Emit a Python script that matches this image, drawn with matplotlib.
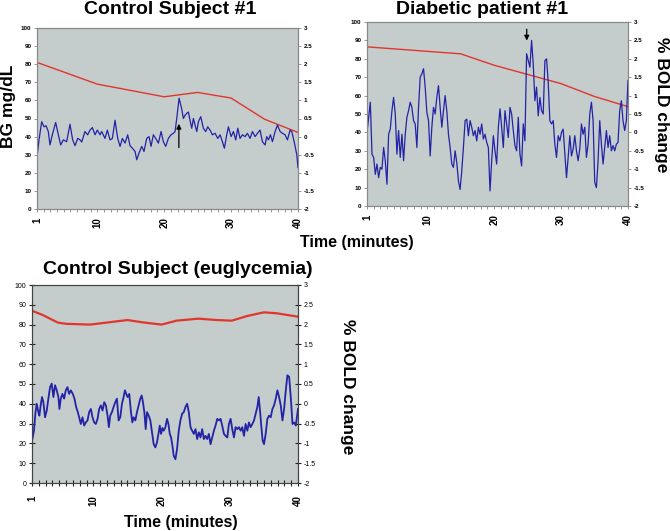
import numpy as np
import matplotlib.pyplot as plt

plt.rcParams['font.family'] = ['Liberation Sans', 'DejaVu Sans']

W, H = 670, 531

# blood glucose (mg/dL, left axis)
bg1_t = [1, 10, 20, 25, 30, 35, 40]
bg1_v = [81, 69, 62, 64.4, 61.3, 49.6, 42.3]
bg2_t = [1, 15, 20, 25, 30, 35, 40]
bg2_v = [86.5, 82.7, 76.5, 71.5, 66.5, 59.5, 54]
bg3_t = [1, 2.6, 4.8, 6, 9.5, 15, 17.3, 20, 22.2, 25.4, 28.1, 30.3, 32.5, 35, 36.9, 40]
bg3_v = [87, 84.8, 81, 80.4, 80, 82.3, 81.1, 80, 82, 83, 82.3, 82, 84.3, 86.2, 85.7, 84]

# % BOLD change (right axis)
bold1_t = [1.0, 1.30, 1.70, 2.05, 2.35, 2.69, 2.94, 3.29, 3.79, 4.19,
           4.54, 4.94, 5.43, 5.93, 6.33, 6.68, 7.08, 7.43, 7.68, 8.17,
           8.57, 8.92, 9.27, 9.67, 10.02, 10.42, 10.67, 11.16, 11.51, 11.91,
           12.26, 12.66, 13.06, 13.41, 13.76, 14.15, 14.55, 14.90, 15.25, 15.65,
           15.90, 16.25, 16.65, 16.99, 17.39, 17.74, 18.04, 18.39, 18.74, 19.14,
           19.54, 19.88, 20.23, 20.63, 21.03, 21.38, 21.63, 21.88, 22.23, 22.62,
           22.87, 23.12, 23.37, 23.62, 23.87, 24.12, 24.37, 24.62, 24.87, 25.12,
           25.47, 25.86, 26.21, 26.51, 26.86, 27.21, 27.61, 28.01, 28.36, 28.70,
           29.00, 29.35, 29.60, 30.00, 30.35, 30.70, 31.00, 31.34, 31.69, 32.09,
           32.44, 32.84, 33.19, 33.59, 33.94, 34.33, 34.68, 35.08, 35.33, 35.58,
           35.88, 36.18, 36.58, 36.93, 37.33, 37.68, 38.07, 38.42, 38.82, 39.07,
           39.47, 39.82, 40.0]
bold1_v = [-0.55, -0.09, 0.41, 0.27, 0.30, 0.14, -0.23, 0.05, 0.39, 0.05,
           -0.23, -0.09, -0.14, 0.34, -0.09, -0.25, -0.05, -0.09, -0.15, 0.14,
           0.05, 0.18, 0.25, 0.05, 0.18, 0.05, 0.14, -0.05, 0.18, -0.09,
           -0.05, 0.45, -0.05, -0.27, -0.05, -0.18, 0.05, -0.25, -0.32, -0.41,
           -0.64, -0.45, -0.27, -0.41, -0.05, 0.00, -0.27, 0.05, -0.05, -0.18,
           0.14, -0.14, -0.27, -0.05, 0.05, 0.09, 0.14, 0.50, 1.06, 0.77,
           0.50, 0.59, 0.64, 0.68, 0.45, 0.23, 0.50, 0.32, 0.14, 0.41,
           0.55, 0.23, 0.14, 0.27, 0.18, 0.05, 0.09, -0.05, 0.05, -0.14,
           -0.32, 0.05, 0.27, 0.00, 0.14, -0.09, 0.23, -0.05, 0.05, 0.00,
           0.09, -0.05, 0.14, 0.00, 0.09, 0.18, -0.14, -0.23, 0.00, -0.09,
           0.05, -0.14, 0.14, 0.32, 0.14, 0.09, 0.05, -0.09, 0.18, 0.14,
           -0.18, -0.50, -0.86]

bold2_v = [0.00, 0.41, 0.82, -0.59, -0.68, -1.14, -0.86, -1.23, -0.95, -1.00,
           -0.41, -0.77, -1.41, -0.05, 0.09, 0.59, 0.95, 0.50, -0.59, 0.05,
           -0.68, -0.05, -0.77, -0.05, 0.41, 0.59, 0.82, 0.68, 0.32, 0.23,
           -0.41, 0.68, 1.50, 1.59, 1.73, 1.23, 0.55, 0.32, -0.64, 0.14,
           0.68, 0.50, 0.95, 1.27, 0.68, 0.14, 0.59, 1.00, 0.59, -0.05,
           -0.41, -0.86, -0.95, -0.50, -0.82, -1.32, -1.55, -1.05, -0.41, 0.32,
           0.36, -0.09, 0.32, 0.14, -0.09, 0.05, -0.23, 0.14, -0.05, 0.23,
           -0.18, -0.05, -0.27, -0.41, -1.59, -0.77, -0.09, -0.50, -0.86, 0.14,
           0.64, 0.14, -0.41, 0.59, 0.23, -0.14, 0.68, 0.50, 0.05, -0.36,
           -0.50, 0.41, -0.59, -0.91, 0.23, -0.23, 2.14, 1.95, 1.77, 2.50,
           1.86, 0.86, 1.23, 0.45, 0.95, 0.59, 0.50, 1.95, 2.00, 1.36,
           0.32, 0.23, 0.32, -0.32, -0.68, -0.09, -0.23, 0.00, 0.09, -0.59,
           -1.23, -0.68, -0.09, -0.64, -0.45, -0.09, -0.50, -0.77, -0.45, 0.23,
           -0.05, 0.14, -0.68, -0.32, 0.50, 0.82, 0.32, -1.36, -1.50, -0.77,
           0.32, -0.32, -0.86, -0.41, 0.05, -0.41, -0.09, -0.50, -0.36, -0.50,
           -0.32, -0.27, 0.59, 0.86, 0.32, 0.05, 0.32, 1.41]
bold2_t = np.linspace(1, 40, len(bold2_v))

bold3_t = [1.0, 1.29, 1.49, 1.69, 1.93, 2.08, 2.27, 2.47, 2.67, 2.91,
           3.16, 3.40, 3.65, 3.89, 4.14, 4.38, 4.63, 4.87, 5.02, 5.22,
           5.46, 5.71, 5.95, 6.20, 6.44, 6.69, 6.98, 7.23, 7.47, 7.72,
           7.96, 8.16, 8.40, 8.65, 8.89, 9.14, 9.38, 9.63, 9.87, 10.12,
           10.36, 10.61, 10.85, 11.10, 11.34, 11.59, 11.83, 12.08, 12.27, 12.47,
           12.72, 12.96, 13.21, 13.45, 13.70, 13.94, 14.19, 14.43, 14.63, 14.82,
           15.02, 15.26, 15.51, 15.71, 15.90, 16.15, 16.39, 16.64, 16.88, 17.08,
           17.27, 17.47, 17.67, 17.86, 18.11, 18.35, 18.60, 18.84, 19.09, 19.33,
           19.58, 19.73, 19.92, 20.12, 20.31, 20.56, 20.80, 21.00, 21.20, 21.39,
           21.59, 21.78, 22.03, 22.27, 22.52, 22.76, 23.01, 23.25, 23.50, 23.75,
           23.99, 24.24, 24.48, 24.73, 24.97, 25.22, 25.46, 25.71, 25.95, 26.20,
           26.44, 26.69, 26.93, 27.18, 27.42, 27.67, 27.91, 28.16, 28.40, 28.65,
           28.89, 29.14, 29.38, 29.63, 29.87, 30.12, 30.36, 30.61, 30.85, 31.10,
           31.34, 31.59, 31.83, 32.08, 32.32, 32.57, 32.81, 33.06, 33.30, 33.55,
           33.79, 34.04, 34.24, 34.43, 34.63, 34.82, 35.02, 35.26, 35.51, 35.75,
           36.00, 36.25, 36.49, 36.74, 36.98, 37.23, 37.47, 37.72, 37.96, 38.21,
           38.45, 38.70, 38.94, 39.19, 39.43, 39.68, 39.92, 40.00]
bold3_v = [-0.93, -0.68, -0.25, 0.00, -0.21, -0.30, -0.04, 0.17, 0.04, -0.34,
           -0.17, 0.13, 0.42, 0.51, 0.17, 0.47, 0.34, 0.17, -0.13, 0.13,
           0.25, 0.13, 0.34, 0.42, 0.25, 0.34, 0.25, 0.13, -0.08, -0.21,
           -0.38, -0.51, -0.34, -0.55, -0.47, -0.42, -0.21, -0.13, -0.34, -0.47,
           -0.51, -0.38, -0.13, -0.04, -0.17, 0.04, -0.04, -0.30, -0.59, -0.30,
           -0.21, -0.08, 0.04, 0.13, -0.42, -0.34, 0.00, 0.17, 0.34, 0.25,
           0.17, 0.25, -0.21, -0.47, -0.34, -0.42, -0.21, -0.04, 0.13, 0.21,
           0.04, -0.21, -0.64, -0.21, -0.30, -0.42, -0.72, -1.02, -1.10, -0.97,
           -0.72, -0.55, -0.76, -0.61, -0.68, -0.59, -0.38, -0.51, -0.76, -0.85,
           -1.06, -1.31, -1.40, -1.14, -0.68, -0.42, -0.25, -0.21, -0.08, 0.00,
           -0.21, -0.59, -0.68, -0.76, -0.64, -0.89, -0.72, -0.85, -0.64, -0.89,
           -0.81, -0.89, -0.76, -1.02, -0.85, -0.68, -0.55, -0.38, -0.42, -0.38,
           -0.55, -0.76, -0.81, -0.85, -0.51, -0.38, -0.64, -0.85, -0.59, -0.64,
           -0.59, -0.68, -0.59, -0.81, -0.51, -0.68, -0.47, -0.59, -0.51, -0.42,
           -0.25, -0.08, 0.17, -0.17, -0.59, -0.93, -1.02, -0.76, -0.38, -0.30,
           -0.34, -0.13, -0.04, 0.13, 0.34, 0.17, -0.04, -0.42, -0.13, 0.34,
           0.72, 0.68, 0.17, -0.51, -0.47, -0.55, -0.25, -0.13]

x_ticks = [1, 10, 20, 30, 40]
left_ticks = [0, 10, 20, 30, 40, 50, 60, 70, 80, 90, 100]
right_ticks = [-2, -1.5, -1, -0.5, 0, 0.5, 1, 1.5, 2, 2.5, 3]
right_labels = ['-2', '-1.5', '-1', '-0.5', '0', '0.5', '1', '1.5', '2', '2.5', '3']

bg_color = '#c4cccc'
red = '#e2352c'
blue = '#2323a6'


def px_rect(x0, y0, x1, y1):
    return [x0 / W, 1 - y1 / H, (x1 - x0) / W, (y1 - y0) / H]


def fig_text(x, y, s, **kw):
    fig.text(x / W, 1 - y / H, s, ha='center', va='center', **kw)


fig = plt.figure(figsize=(W / 100, H / 100), dpi=100)


def make_panel(rect, bt, bv, ot, ov, heavy):
    ax = fig.add_axes(rect)
    ax.set_facecolor(bg_color)
    lw_r = 1.6 if heavy else 1.0
    lw_b = 1.3 if heavy else 0.9
    ax.plot(bt, bv, color=red, lw=lw_r)
    ax.set_xlim(1, 40)
    ax.set_ylim(0, 100)
    ax2 = ax.twinx()
    ax2.plot(ot, ov, color=blue, lw=lw_b)
    ax2.set_ylim(-2, 3)

    edge = '#444444' if heavy else '#888888'
    weight = 'normal' if heavy else 'bold'
    tsize = 5 if heavy else 4.5
    for a in (ax, ax2):
        for sp in a.spines.values():
            sp.set_color(edge)
            sp.set_linewidth(0.8)
    ax.set_xticks(x_ticks)
    ax.set_xticks(range(1, 41), minor=True)
    ax.set_xticklabels([str(v) for v in x_ticks], rotation=90,
                       fontsize=7, fontweight='bold')
    ax.set_yticks(left_ticks)
    ax.set_yticklabels([str(v) for v in left_ticks], fontsize=tsize,
                       fontweight=weight)
    ax2.set_yticks(right_ticks)
    ax2.set_yticklabels(right_labels, fontsize=tsize, fontweight=weight)
    if heavy:
        ax.tick_params(axis='x', which='both', direction='inout', length=4,
                       width=0.8, color='#222222', pad=7)
        ax.tick_params(axis='y', direction='inout', length=4, width=0.8,
                       color='#222222', pad=2)
        ax2.tick_params(axis='y', direction='inout', length=4, width=0.8,
                        color='#222222', pad=2)
    else:
        ax.tick_params(axis='x', which='both', direction='out', length=2,
                       width=0.6, color='#888888', pad=4)
        ax.tick_params(axis='y', direction='out', length=2, width=0.6,
                       color='#888888', pad=2)
        ax2.tick_params(axis='y', direction='out', length=2, width=0.6,
                        color='#888888', pad=2)
    return ax, ax2


# Control subject #1
a1, b1 = make_panel(px_rect(37, 28, 298, 209), bg1_t, bg1_v, bold1_t, bold1_v, False)
b1.annotate('', xy=(22.2, 0.43), xytext=(22.2, -0.38),
            arrowprops=dict(arrowstyle='-|>', color='black', lw=0.9,
                            mutation_scale=7))

# Diabetic patient #1
a2, b2 = make_panel(px_rect(367, 22, 628, 206), bg2_t, bg2_v, bold2_t, bold2_v, False)
b2.annotate('', xy=(24.87, 2.42), xytext=(24.87, 2.88),
            arrowprops=dict(arrowstyle='-|>', color='black', lw=0.9,
                            mutation_scale=7))

# Control subject (euglycemia)
a3, b3 = make_panel(px_rect(32, 285, 298, 483), bg3_t, bg3_v, bold3_t, bold3_v, True)

fig_text(170, 10, 'Control Subject #1', fontsize=14, fontweight='bold')
fig_text(482, 9, 'Diabetic patient #1', fontsize=14, fontweight='bold')
fig_text(178, 269, 'Control Subject (euglycemia)', fontsize=14, fontweight='bold')

fig_text(9, 106, 'BG mg/dL', fontsize=12.5, fontweight='bold', rotation=90)
fig_text(661, 105, '% BOLD change', fontsize=12.5, fontweight='bold', rotation=270)
fig_text(347, 387, '% BOLD change', fontsize=12.5, fontweight='bold', rotation=270)

fig_text(357, 242, 'Time (minutes)', fontsize=11.5, fontweight='bold')
fig_text(181, 523, 'Time (minutes)', fontsize=11.5, fontweight='bold')

fig.savefig('out.png', dpi=100, facecolor='white')
